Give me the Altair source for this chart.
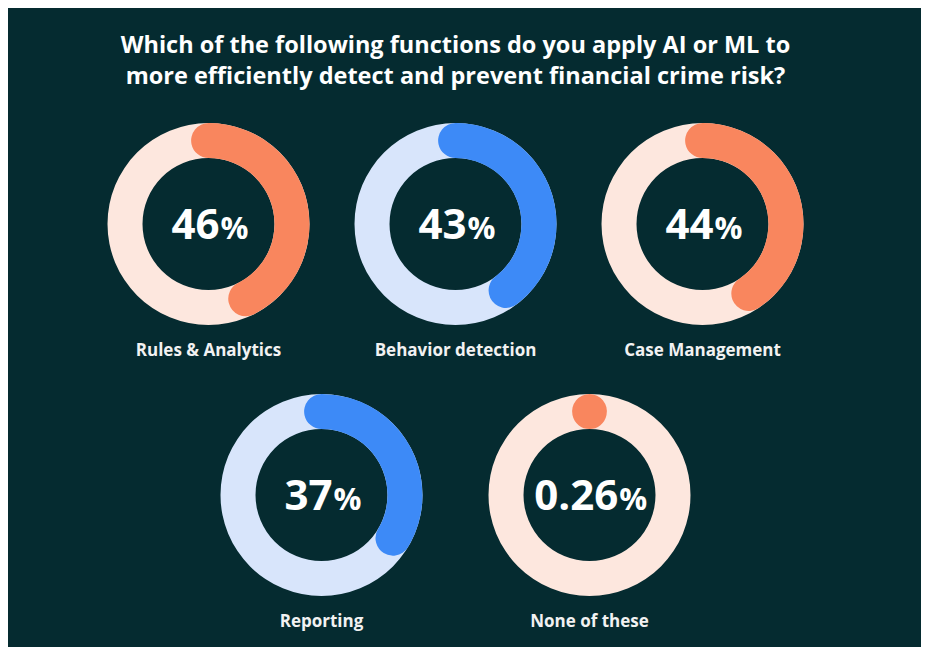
import math
import altair as alt
import pandas as pd

# ---- data ----
title_lines = [
    "Which of the following functions do you apply AI or ML to",
    "more efficiently detect and prevent financial crime risk?",
]
categories = ["Rules & Analytics", "Behavior detection", "Case Management", "Reporting", "None of these"]
values = [46, 43, 44, 37, 0.26]
value_labels = ["46", "43", "44", "37", "0.26"]
accents = ["orange", "blue", "orange", "blue", "orange"]
row_layout = [[0, 1, 2], [3, 4]]

# ---- style ----
BG = "#052B30"
PALETTE = {"orange": ("#F9865E", "#FDE7DE"), "blue": ("#3D8AF7", "#D8E5FB")}
FONT = "Open Sans"
PW, PH = 247, 250
CX, CY = PW / 2, 110
R_OUT, R_IN = 101, 66
CAP = ((R_OUT - R_IN) / 2) / ((R_OUT + R_IN) / 2)
LABEL_Y = 237
NUM_SIZE, PCT_SIZE = 42, 31


def est_width(s, size):
    w = 0.0
    for ch in s:
        w += 0.27 if ch == "." else 0.572
    return w * size


def panel(i):
    acc, track = PALETTE[accents[i]]
    ang = values[i] / 100 * 2 * math.pi
    track_df = pd.DataFrame({"t0": [0.0], "t1": [2 * math.pi]})
    val_df = pd.DataFrame({"t0": [-CAP], "t1": [max(ang, CAP)]})
    txt_df = pd.DataFrame({"num": [value_labels[i]], "pct": ["%"], "cat": [categories[i]]})

    track_l = alt.Chart(track_df).mark_arc(radius=R_OUT, radius2=R_IN).encode(
        theta=alt.Theta("t0:Q", scale=None), theta2="t1:Q",
        x=alt.value(CX), y=alt.value(CY), color=alt.value(track))
    val_l = alt.Chart(val_df).mark_arc(radius=R_OUT, radius2=R_IN,
                                       cornerRadius=(R_OUT - R_IN) / 2).encode(
        theta=alt.Theta("t0:Q", scale=None), theta2="t1:Q",
        x=alt.value(CX), y=alt.value(CY), color=alt.value(acc))

    w_num = est_width(value_labels[i], NUM_SIZE)
    w_pct = 0.84 * PCT_SIZE
    split = CX + (w_num - w_pct) / 2
    base_y = CY + 0.714 * NUM_SIZE / 2

    num_l = alt.Chart(txt_df).mark_text(
        font=FONT, fontSize=NUM_SIZE, fontWeight="bold", color="#FFFFFF",
        align="right", baseline="alphabetic").encode(
        text="num:N", x=alt.value(split), y=alt.value(base_y))
    pct_l = alt.Chart(txt_df).mark_text(
        font=FONT, fontSize=PCT_SIZE, fontWeight="bold", color="#FFFFFF",
        align="left", baseline="alphabetic").encode(
        text="pct:N", x=alt.value(split + 1), y=alt.value(base_y))
    lab_l = alt.Chart(txt_df).mark_text(
        font=FONT, fontSize=17, fontWeight="bold", color="#F2F2F2",
        align="center", baseline="middle").encode(
        text="cat:N", x=alt.value(CX), y=alt.value(LABEL_Y))

    return alt.layer(track_l, val_l, num_l, pct_l, lab_l).properties(width=PW, height=PH)


rows = [
    alt.hconcat(*[panel(i) for i in row_layout[0]], spacing=0),
    alt.hconcat(*[panel(i) for i in row_layout[1]], spacing=21),
]

chart = alt.vconcat(*rows, spacing=21, center=True).properties(
    title=alt.TitleParams(
        text=title_lines, font=FONT, fontSize=23.5, fontWeight="bold", color="#FFFFFF",
        anchor="middle", lineHeight=31, offset=26),
    padding={"left": 77, "right": 95, "top": 25, "bottom": 12},
    background=BG,
).configure_view(stroke=None)

chart.save("out.html", embed_options={"renderer": "svg", "actions": False})
